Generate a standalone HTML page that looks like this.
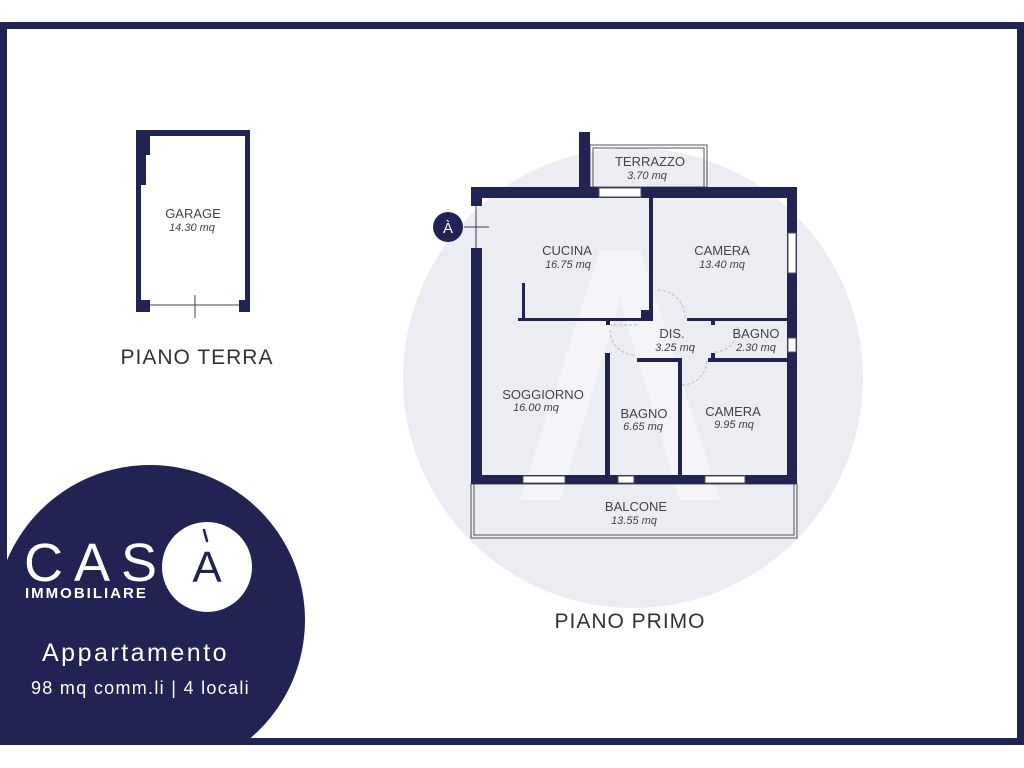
<!DOCTYPE html>
<html><head><meta charset="utf-8"><style>
html,body{margin:0;padding:0;background:#fff;}
svg{display:block;}
text{font-family:"Liberation Sans","DejaVu Sans",sans-serif;}
</style></head><body>
<svg width="1024" height="768" viewBox="0 0 1024 768" xmlns="http://www.w3.org/2000/svg">
<defs><clipPath id="fr"><rect x="0" y="22" width="1024" height="723"/></clipPath></defs>
<rect width="1024" height="768" fill="#fff"/>
<!-- watermark -->
<circle cx="633" cy="378" r="230" fill="#ececf3"/>
<polygon points="600,250 640,250 720,500 680,500 620,300 560,500 520,500" fill="#f5f5f9"/>
<!-- frame -->
<rect x="3.5" y="25.5" width="1017" height="716" fill="none" stroke="#212453" stroke-width="7"/>
<!-- logo circle -->
<circle cx="150" cy="620" r="155" fill="#212453" clip-path="url(#fr)"/>
<rect x="0" y="600" width="150" height="145" fill="#212453"/>
<circle cx="207" cy="567" r="45" fill="#fff"/>
<text x="207" y="582" font-size="44" fill="#212453" text-anchor="middle" font-weight="300">A</text>
<path d="M204 530 L207 541" stroke="#212453" stroke-width="2.5" stroke-linecap="round"/>
<text x="24" y="581" font-size="54" fill="#fff" letter-spacing="11">CAS</text>
<text x="25" y="598" font-size="15" fill="#fff" font-weight="bold" letter-spacing="2">IMMOBILIARE</text>
<text x="42" y="661" font-size="25" fill="#fff" letter-spacing="2.5">Appartamento</text>
<text x="31" y="694" font-size="18" fill="#fff" letter-spacing="1.3">98 mq comm.li | 4 locali</text>

<!-- garage -->
<g fill="#212453">
<rect x="136" y="130" width="114" height="6"/>
<rect x="245" y="130" width="5" height="182"/>
<rect x="136" y="130" width="14" height="25"/>
<rect x="136" y="150" width="10" height="35"/>
<rect x="136" y="180" width="5" height="132"/>
<rect x="136" y="300" width="14" height="12"/>
<rect x="239" y="300" width="11" height="12"/>
</g>
<line x1="150" y1="305" x2="239" y2="305" stroke="#444" stroke-width="1"/>
<line x1="195" y1="295" x2="195" y2="318" stroke="#444" stroke-width="1"/>
<text x="193" y="218" font-size="13" fill="#444" text-anchor="middle">GARAGE</text>
<text x="192" y="231" font-size="11" fill="#444" text-anchor="middle" font-style="italic">14.30 mq</text>
<text x="197" y="364" font-size="21" fill="#333" text-anchor="middle" letter-spacing="1">PIANO TERRA</text>

<!-- plan -->
<g fill="none" stroke="#555" stroke-width="1">
<rect x="590" y="145" width="117" height="42"/>
<rect x="593" y="148" width="111" height="39"/>
<rect x="471" y="484" width="326" height="54"/>
<rect x="474" y="484" width="320" height="51"/>
</g>
<g fill="#212453">
<rect x="579" y="132" width="11" height="66"/>
<rect x="471" y="187" width="326" height="11"/>
<rect x="471" y="187" width="11" height="19"/>
<rect x="471" y="248" width="11" height="236"/>
<rect x="787" y="187" width="10" height="297"/>
<rect x="471" y="475" width="326" height="9"/>
<rect x="649" y="198" width="4" height="122"/>
<rect x="641" y="310" width="12" height="10"/>
<rect x="518" y="318" width="135" height="3"/>
<rect x="522" y="283" width="3" height="35"/>
<rect x="606" y="318" width="4" height="7"/>
<rect x="687" y="318" width="100" height="3"/>
<rect x="711" y="318" width="4" height="7"/>
<rect x="708" y="358" width="79" height="4"/>
<rect x="711" y="353" width="4" height="9"/>
<rect x="637" y="358" width="45" height="4"/>
<rect x="605" y="353" width="5" height="122"/>
<rect x="678" y="358" width="4" height="117"/>
</g>
<g fill="#fff" stroke="#555" stroke-width="1">
<rect x="599" y="188" width="42" height="9"/>
<rect x="788" y="233" width="8" height="40"/>
<rect x="788" y="338" width="8" height="14"/>
<rect x="523" y="476" width="42" height="7"/>
<rect x="618" y="476" width="16" height="7"/>
<rect x="705" y="476" width="40" height="7"/>
</g>
<g fill="none" stroke="#bbb" stroke-width="1" stroke-dasharray="3,2">
<path d="M658 290 A27 27 0 0 1 685 317"/>
<path d="M610 330 A25 25 0 0 0 635 355 M637 325 L610 325"/>
<path d="M682 385 A25 25 0 0 0 707 360"/>
<path d="M715 352 A24 24 0 0 0 738 326"/>
</g>
<line x1="476" y1="206" x2="476" y2="248" stroke="#444"/>
<line x1="464" y1="227" x2="489" y2="227" stroke="#444"/>
<circle cx="448" cy="227" r="15" fill="#212453"/>
<text x="448" y="233" font-size="15" fill="#fff" text-anchor="middle">À</text>

<g fill="#444" text-anchor="middle">
<text x="650" y="166" font-size="13">TERRAZZO</text>
<text x="647" y="179" font-size="11" font-style="italic">3.70 mq</text>
<text x="567" y="255" font-size="13">CUCINA</text>
<text x="568" y="268" font-size="11" font-style="italic">16.75 mq</text>
<text x="722" y="255" font-size="13">CAMERA</text>
<text x="722" y="268" font-size="11" font-style="italic">13.40 mq</text>
<text x="672" y="338" font-size="13">DIS.</text>
<text x="675" y="351" font-size="11" font-style="italic">3.25 mq</text>
<text x="756" y="338" font-size="13">BAGNO</text>
<text x="756" y="351" font-size="11" font-style="italic">2.30 mq</text>
<text x="543" y="399" font-size="13">SOGGIORNO</text>
<text x="536" y="411" font-size="11" font-style="italic">16.00 mq</text>
<text x="644" y="418" font-size="13">BAGNO</text>
<text x="643" y="430" font-size="11" font-style="italic">6.65 mq</text>
<text x="733" y="416" font-size="13">CAMERA</text>
<text x="734" y="428" font-size="11" font-style="italic">9.95 mq</text>
<text x="636" y="511" font-size="13">BALCONE</text>
<text x="634" y="524" font-size="11" font-style="italic">13.55 mq</text>
</g>
<text x="630" y="628" font-size="21" fill="#333" text-anchor="middle" letter-spacing="1">PIANO PRIMO</text>
</svg>
</body></html>
